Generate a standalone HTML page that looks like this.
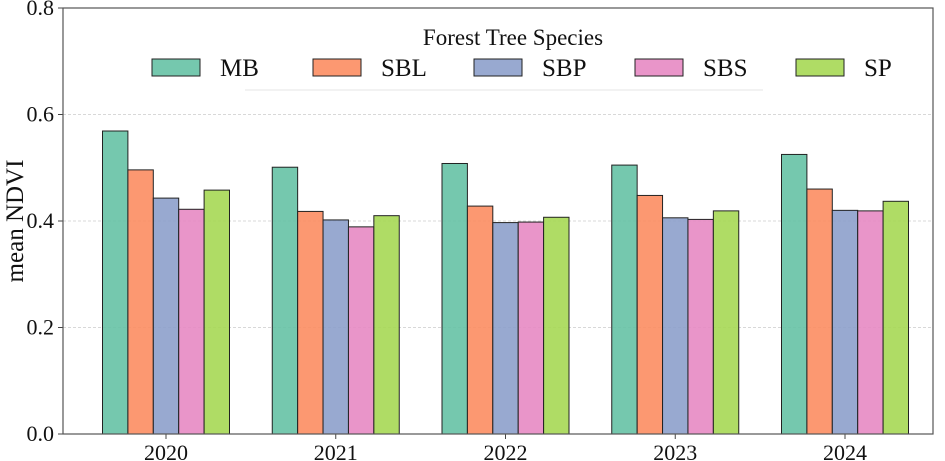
<!DOCTYPE html>
<html><head><meta charset="utf-8"><style>
body{margin:0;background:#fff}
svg{display:block;font-family:"Liberation Serif",serif}
</style></head><body>
<svg id="c" width="945" height="461"></svg>
<script>
const years=["2020","2021","2022","2023","2024"];
const species=["MB","SBL","SBP","SBS","SP"];
const colors=["#66c2a5","#fc8d62","#8da0cb","#e78ac3","#a6d854"];
const MB=[0.569,0.501,0.508,0.505,0.525];
const SBL=[0.496,0.418,0.428,0.448,0.460];
const SBP=[0.443,0.402,0.397,0.406,0.420];
const SBS=[0.422,0.389,0.398,0.403,0.419];
const SP=[0.458,0.410,0.407,0.419,0.437];
const yTicks=[0.0,0.2,0.4,0.6,0.8];
const series=[MB,SBL,SBP,SBS,SP];
const NS="http://www.w3.org/2000/svg";
const svg=document.getElementById('c');
const L=63,R=933,T=8,B=434;
const y=v=>B-(v/0.8)*(B-T);
const step=169.75, x0=166;
const x=i=>x0+i*step;
const groupW=127, bw=groupW/5;
function el(t,a,p){const e=document.createElementNS(NS,t);for(const k in a)e.setAttribute(k,a[k]);(p||svg).appendChild(e);return e;}
yTicks.forEach(v=>{
  if(v>0&&v<0.8){const g=el('line',{x1:L,x2:R,y1:y(v),y2:y(v),stroke:'#ccc','stroke-dasharray':'3,2','stroke-width':0.8});
  
  }
  el('line',{x1:L-5,x2:L,y1:y(v),y2:y(v),stroke:'#444'});
  const t=el('text',{x:L-9,y:y(v)+7,'text-anchor':'end','font-size':22,fill:'#111'});
  t.textContent=v.toFixed(1);
  
  
});
years.forEach((yr,i)=>{
  series.forEach((s,j)=>{
    const bx=x(i)-groupW/2+j*bw;
    const r=el('rect',{x:bx,y:y(s[i]),width:bw,height:B-y(s[i]),fill:colors[j],'fill-opacity':0.9,stroke:'#222','stroke-width':1});
    
    
  });
  el('line',{x1:x(i),x2:x(i),y1:B,y2:B+5,stroke:'#444'});
  const t=el('text',{x:x(i),y:B+26,'text-anchor':'middle','font-size':22,fill:'#111'});
  t.textContent=yr;
  
  
});
const f=el('rect',{x:L,y:T,width:R-L,height:B-T,fill:'none',stroke:'#555','stroke-width':1.2});


const yl=el('text',{x:0,y:0,transform:'translate(23,221) rotate(-90)','text-anchor':'middle','font-size':25,fill:'#111'});
yl.textContent='mean NDVI';


el('line',{x1:245,x2:763,y1:90,y2:90,stroke:'#e4e4e4'});
const lt=el('text',{x:513,y:45,'text-anchor':'middle','font-size':23,fill:'#111'});
lt.textContent='Forest Tree Species';


species.forEach((s,j)=>{
  const lx=152+j*161;
  const p=el('rect',{x:lx,y:59,width:48,height:17,fill:colors[j],'fill-opacity':0.9,stroke:'#222','stroke-width':1});
  
  
  const t=el('text',{x:lx+68,y:76,'font-size':25,fill:'#111'});
  t.textContent=s;
  
  
});
</script>
</body></html>
